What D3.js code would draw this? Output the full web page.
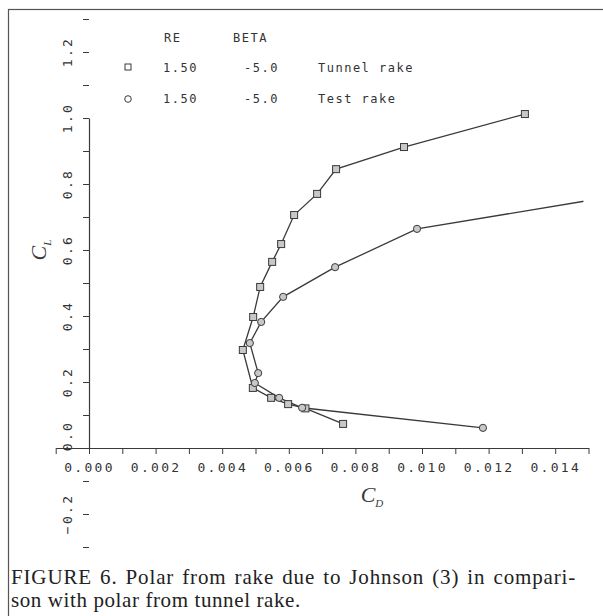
<!DOCTYPE html>
<html>
<head>
<meta charset="utf-8">
<script src="https://cdn.jsdelivr.net/npm/d3@7"></script>
<style>
  html, body { margin: 0; padding: 0; background: #fff; }
  svg { display: block; }
  .tick text { font-family: "DejaVu Sans Mono", monospace; fill: #333; }
  .mono { font-family: "DejaVu Sans Mono", monospace; fill: #333; }
</style>
</head>
<body>
<div id="chart"></div>
<script>
// Tunnel rake polar (squares)
const tunnelCD = [0.01309, 0.00946, 0.00742, 0.00685, 0.00616, 0.00577, 0.00550, 0.00514, 0.00493, 0.00462, 0.00492, 0.00547, 0.00598, 0.00650, 0.00763];
const tunnelCL = [1.012, 0.912, 0.845, 0.770, 0.706, 0.618, 0.564, 0.488, 0.397, 0.297, 0.182, 0.152, 0.133, 0.120, 0.073];
// Test rake polar (circles); first point lies past the right edge
const testCD = [0.0180, 0.00985, 0.00739, 0.00583, 0.00517, 0.00483, 0.00508, 0.00498, 0.00571, 0.00640, 0.01183];
const testCL = [0.80, 0.664, 0.548, 0.458, 0.382, 0.318, 0.227, 0.197, 0.152, 0.122, 0.061];

const xTicks = d3.range(-1, 16).map((k) => k / 1000);
const xLabels = [0, 0.002, 0.004, 0.006, 0.008, 0.010, 0.012, 0.014];
const yTicks = d3.range(-3, 14).map((k) => k / 10);
const yLabels = [-0.2, 0, 0.2, 0.4, 0.6, 0.8, 1.0, 1.2];

const legendRows = [
  { sym: "square", re: "1.50", beta: "-5.0", name: "Tunnel rake" },
  { sym: "circle", re: "1.50", beta: "-5.0", name: "Test rake" },
];

const W = 603, H = 616;
const ink = "#3a3a3a";

const svg = d3.select("#chart").append("svg").attr("width", W).attr("height", H);

// frame
svg.append("rect")
  .attr("x", 8.5).attr("y", 9.5)
  .attr("width", 640).attr("height", 640)
  .attr("fill", "none").attr("stroke", "#555").attr("stroke-width", 1.2);

const x = d3.scaleLinear().domain([-0.001, 0.015]).range([55.7, 588.5]);
const y = d3.scaleLinear().domain([0, 1.0]).range([448, 118]);

// x axis
const xAxis = svg.append("g")
  .attr("transform", `translate(0, ${y(0)})`)
  .call(
    d3.axisBottom(x)
      .tickValues(xTicks)
      .tickSize(6)
      .tickSizeOuter(0)
      .tickPadding(9)
      .tickFormat((d) => (xLabels.some((v) => Math.abs(v - d) < 1e-9) ? d3.format(".3f")(d) : ""))
  );
xAxis.select(".domain").attr("stroke", ink).attr("stroke-width", 1.2);
xAxis.selectAll(".tick line").attr("stroke", ink);
xAxis.selectAll(".tick text").attr("font-size", 13).attr("letter-spacing", 2.3);

// y axis
const yAxis = svg.append("g")
  .attr("transform", `translate(${x(0)}, 0)`)
  .call(
    d3.axisLeft(y)
      .tickValues(yTicks)
      .tickSize(6)
      .tickSizeOuter(0)
      .tickFormat("")
  );
yAxis.select(".domain").attr("stroke", ink).attr("stroke-width", 1.2);
yAxis.selectAll(".tick line").attr("stroke", ink);
yAxis.selectAll(".tick").filter((d) => Math.abs(d) < 1e-9).remove();

svg.append("g")
  .selectAll("text")
  .data(yLabels)
  .join("text")
  .attr("class", "mono")
  .attr("font-size", 13)
  .attr("letter-spacing", 2.3)
  .attr("text-anchor", "middle")
  .attr("transform", (d) => `translate(${x(0) - 22}, ${y(d) - (d === 0 ? 12 : 0)}) rotate(-90)`)
  .attr("dy", "0.35em")
  .text((d) => d3.format(".1f")(d));

// axis titles
const cl = svg.append("text")
  .attr("transform", `translate(46, 250) rotate(-90)`)
  .attr("font-family", "Liberation Serif, serif")
  .attr("font-style", "italic")
  .attr("fill", ink)
  .attr("font-size", 22)
  .attr("text-anchor", "middle");
cl.append("tspan").text("C");
cl.append("tspan").attr("font-size", 11).attr("dy", 5).text("L");

const cd = svg.append("text")
  .attr("transform", `translate(372, 502)`)
  .attr("font-family", "Liberation Serif, serif")
  .attr("font-style", "italic")
  .attr("fill", ink)
  .attr("font-size", 22)
  .attr("text-anchor", "middle");
cd.append("tspan").text("C");
cd.append("tspan").attr("font-size", 11).attr("dy", 5).text("D");

// data
svg.append("clipPath").attr("id", "plotclip")
  .append("rect").attr("x", 0).attr("y", 0).attr("width", x(0.01485)).attr("height", H);

const line = d3.line().x((d) => x(d[0])).y((d) => y(d[1]));
const tunnel = d3.zip(tunnelCD, tunnelCL);
const test = d3.zip(testCD, testCL);

const plot = svg.append("g").attr("clip-path", "url(#plotclip)");
[tunnel, test].forEach((pts) => {
  plot.append("path")
    .datum(pts)
    .attr("d", line)
    .attr("fill", "none")
    .attr("stroke", ink)
    .attr("stroke-width", 1.3);
});

plot.selectAll("rect.sq")
  .data(tunnel)
  .join("rect")
  .attr("class", "sq")
  .attr("x", (d) => x(d[0]) - 3.5)
  .attr("y", (d) => y(d[1]) - 3.5)
  .attr("width", 7).attr("height", 7)
  .attr("fill", "#c8c8c8").attr("stroke", ink).attr("stroke-width", 1);

plot.selectAll("circle.ci")
  .data(test)
  .join("circle")
  .attr("class", "ci")
  .attr("cx", (d) => x(d[0]))
  .attr("cy", (d) => y(d[1]))
  .attr("r", 3.6)
  .attr("fill", "#c8c8c8").attr("stroke", ink).attr("stroke-width", 1);

// legend
const lg = svg.append("g").attr("class", "mono").attr("font-size", 12).attr("letter-spacing", 1.5);
lg.append("text").attr("x", 164).attr("y", 42).text("RE");
lg.append("text").attr("x", 233).attr("y", 42).text("BETA");
legendRows.forEach((r, i) => {
  const yy = 72 + i * 31;
  if (r.sym === "square") {
    lg.append("rect").attr("x", 125).attr("y", yy - 8).attr("width", 6).attr("height", 6)
      .attr("fill", "none").attr("stroke", ink);
  } else {
    lg.append("circle").attr("cx", 128).attr("cy", yy - 4).attr("r", 3.3)
      .attr("fill", "none").attr("stroke", ink);
  }
  lg.append("text").attr("x", 163).attr("y", yy).text(r.re);
  lg.append("text").attr("x", 244).attr("y", yy).text(r.beta);
  lg.append("text").attr("x", 318).attr("y", yy).text(r.name);
});

// caption
const cap = svg.append("g")
  .attr("font-family", "Liberation Serif, serif")
  .attr("font-size", 21)
  .attr("fill", "#222");
cap.append("text").attr("x", 11).attr("y", 584).attr("letter-spacing", 0.85).attr("word-spacing", 2)
  .text("FIGURE 6. Polar from rake due to Johnson (3) in compari-");
cap.append("text").attr("x", 11).attr("y", 607).attr("letter-spacing", 0.6)
  .text("son with polar from tunnel rake.");
</script>
</body>
</html>
